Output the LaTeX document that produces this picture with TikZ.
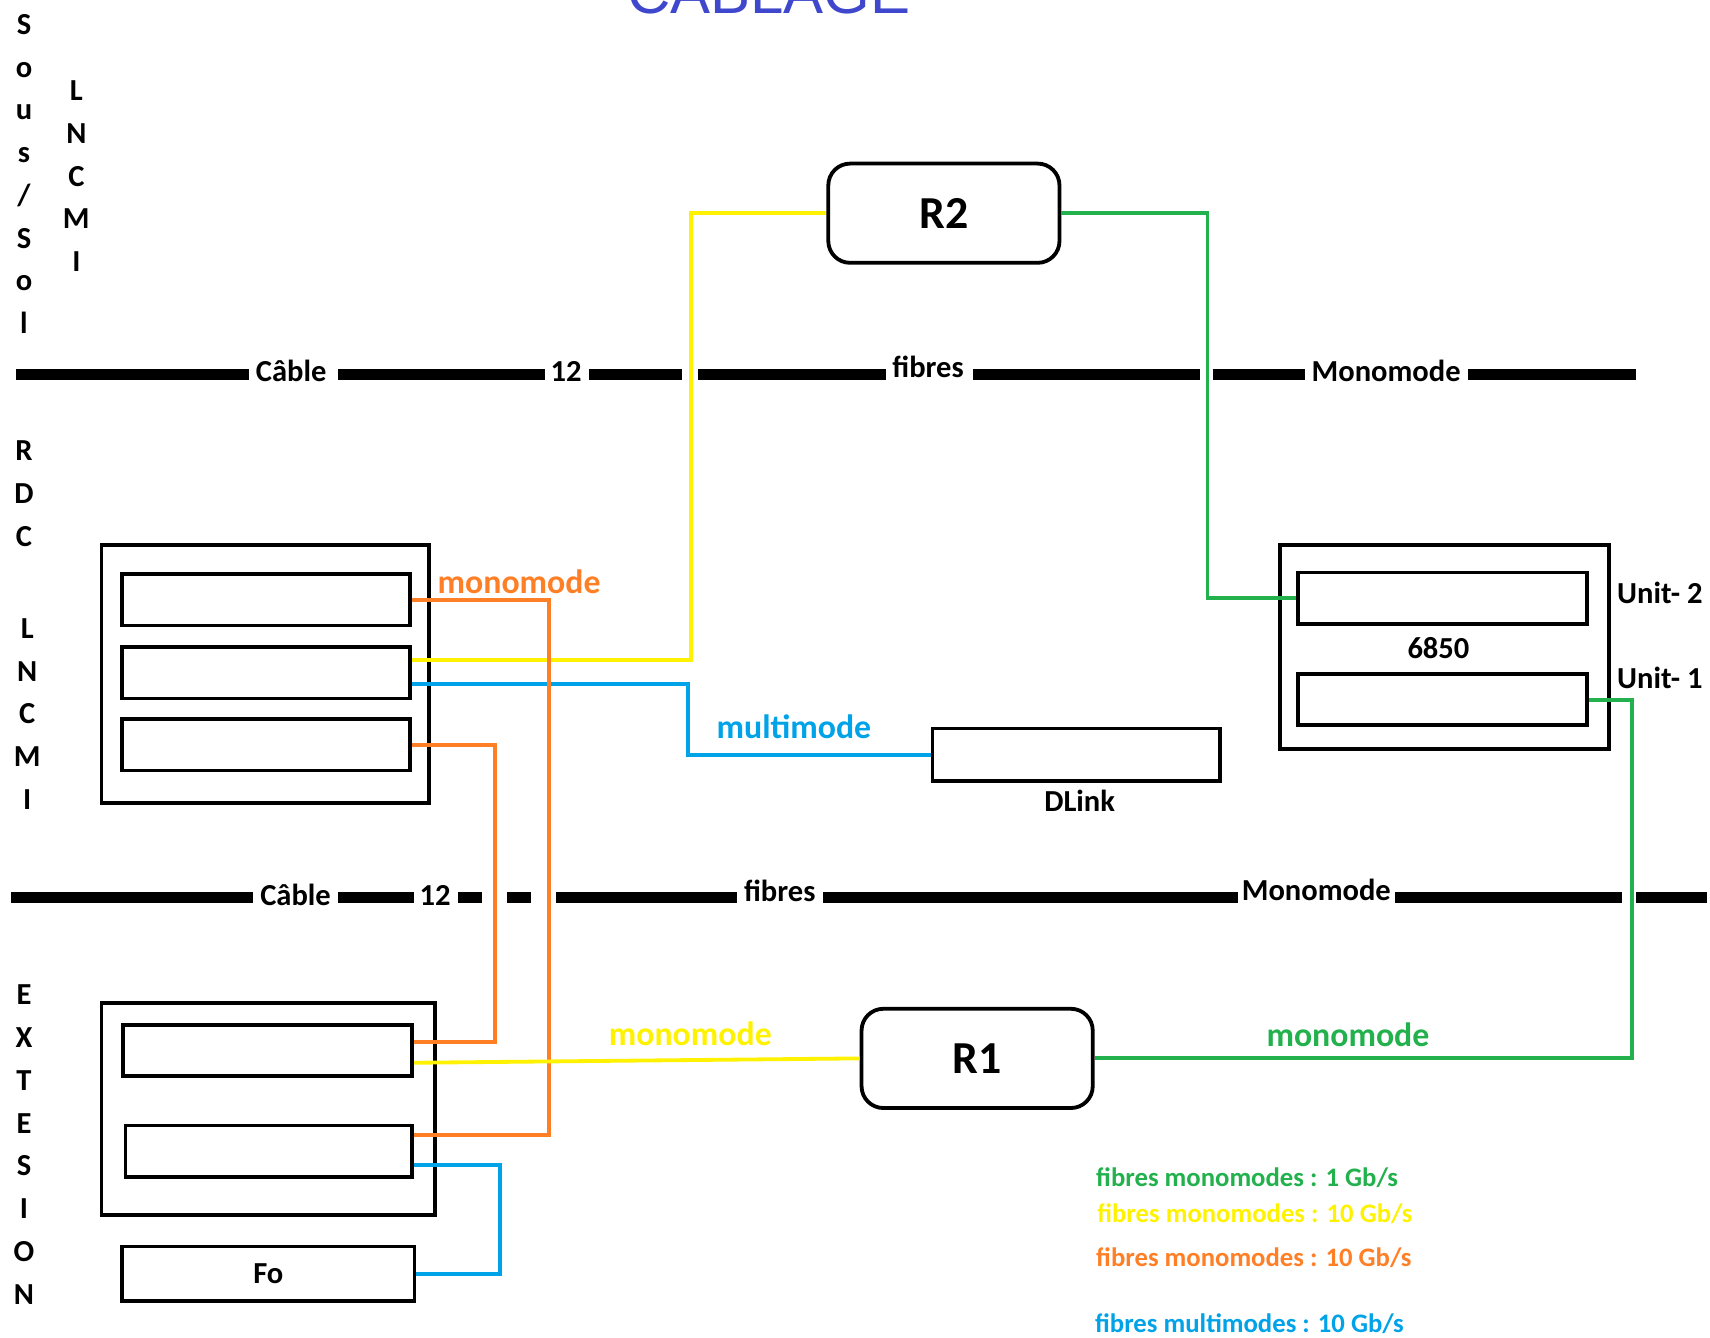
\documentclass[tikz,border=0pt]{standalone}
\usepackage{fontspec}
\setmainfont{Carlito}
\newfontfamily\titlefont{Liberation Sans}
\usetikzlibrary{positioning}

\definecolor{fibgreen}{RGB}{34,177,76}
\definecolor{fibyellow}{RGB}{255,242,0}
\definecolor{fiborange}{RGB}{255,127,39}
\definecolor{fibblue}{RGB}{0,162,232}
\definecolor{titleblue}{RGB}{63,72,204}

\tikzset{
    chassis/.style={draw, line width=3.5pt, inner sep=0pt},
    port/.style={draw, line width=3.5pt, inner sep=0pt, minimum width=264pt, minimum height=47pt},
    router/.style={draw, line width=3.5pt, rounded corners=20pt, minimum width=212pt, minimum height=91pt,
        font=\bfseries\fontsize{42}{42}\selectfont},
    cable/.style={line width=10pt},
    cablelbl/.style={font=\bfseries\fontsize{28}{28}\selectfont, inner sep=0pt},
    floor/.style={font=\bfseries\fontsize{28}{39.2}\selectfont, align=center, anchor=north, inner sep=0pt},
    fibre/.style={line width=3.5pt, draw=#1},
    fibrelbl/.style={font=\bfseries\fontsize{31}{31}\selectfont, text=#1, inner sep=0pt},
    legend/.style={font=\bfseries\fontsize{24.5}{25}\selectfont, anchor=west, inner sep=0pt, text=#1}
}

\begin{document}
\begin{tikzpicture}[x=1pt, y=-1pt]
    \useasboundingbox (0,0) rectangle (1568,1226);

    % titre et etages
    \node[font=\titlefont\fontsize{55}{55}\selectfont, text=titleblue, anchor=base] (title) at (705,12) {CÂBLAGE};
    \node[floor] (lblSous) at (22,13) {S\\o\\u\\s\\/\\S\\o\\l};
    \node[floor] (lblLncmiA) at (70,74) {L\\N\\C\\M\\I};
    \node[floor] (lblRdc) at (22,404) {R\\D\\C};
    \node[floor] (lblLncmiB) at (25,567) {L\\N\\C\\M\\I};
    \node[floor] (lblExt) at (22,903) {E\\X\\T\\E\\S\\I\\O\\N};

    % cables 12 fibres
    \foreach \a/\b in {15/228, 310/500, 540/625, 640/812, 892/1100, 1112/1197, 1346/1500}
        \draw[cable] (\a,343) -- (\b,343);
    \node[cablelbl, anchor=base] (cableA) at (267,350) {Câble};
    \node[cablelbl, anchor=base] (nbA) at (519,350) {12};
    \node[cablelbl, anchor=base] (fibA) at (851,346) {fibres};
    \node[cablelbl, anchor=base] (monoA) at (1271,350) {Monomode};

    \foreach \a/\b in {10/232, 310/380, 420/442, 465/487, 510/676, 755/1135, 1279/1487, 1500/1565}
        \draw[cable] (\a,823) -- (\b,823);
    \node[cablelbl, anchor=base] (cableB) at (271,830) {Câble};
    \node[cablelbl, anchor=base] (nbB) at (399,830) {12};
    \node[cablelbl, anchor=base] (fibB) at (715,827) {fibres};
    \node[cablelbl, anchor=base] (monoB) at (1207,826) {Monomode};

    % RDC
    \node[chassis, minimum width=300pt, minimum height=236pt] (rdc) at (243,618) {};
    \node[port] (rdcA) at (244,550) {};
    \node[port] (rdcB) at (244,617) {};
    \node[port] (rdcC) at (244,683) {};

    % extension
    \node[chassis, minimum width=306pt, minimum height=194pt] (ext) at (246,1017) {};
    \node[port, minimum width=265pt] (extA) at (245.5,963.5) {};
    \node[port, minimum width=263pt] (extB) at (246.5,1055.5) {};
    \node[port, minimum width=268pt, minimum height=50pt, font=\bfseries\fontsize{28}{28}\selectfont] (fo) at (246,1168) {Fo};

    % routeurs
    \node[router] (r2) at (865.5,195.5) {R2};
    \node[router] (r1) at (896,970.5) {R1};

    % 6850
    \node[chassis, minimum width=301pt, minimum height=187pt] (sw) at (1324.5,593.5) {};
    \node[port, minimum width=265pt] (unitB) at (1322.5,548.5) {};
    \node[port, minimum width=265pt] (unitA) at (1322.5,641.5) {};
    \node[cablelbl] (swLbl) at (1319,594) {6850};
    \node[cablelbl] (unitBLbl) at (1522,544) {Unit- 2};
    \node[cablelbl] (unitALbl) at (1522,622) {Unit- 1};

    % DLink
    \node[port, minimum height=48pt] (dlink) at (987,692) {};
    \node[cablelbl] (dlinkLbl) at (990,734) {DLink};

    % fibres
    \draw[fibre=fibyellow] ([yshift=12pt]rdcB.east) -- ++(256,0) |- (r2.west);
    \draw[fibre=fibblue] ([yshift=-10pt]rdcB.east) -- ++(253,0) |- (dlink.west);
    \draw[fibre=fiborange] (rdcA.east) -- ++(126,0) |- ([yshift=15pt]extB.east);
    \draw[fibre=fiborange] (rdcC.east) -- ++(76,0) |- ([yshift=8pt]extA.east);
    \draw[fibre=fibyellow] ([yshift=-11pt]extA.east) -- (r1.west);
    \draw[fibre=fibblue] ([yshift=-12.5pt]extB.east) -- ++(79,0) |- (fo.east);
    \draw[fibre=fibgreen] (r2.east) -- ++(134,0) |- (unitB.west);
    \draw[fibre=fibgreen] (r1.east) -- ++(493,0) |- (unitA.east);

    \node[fibrelbl=fiborange] (lblOrange) at (476,533) {monomode};
    \node[fibrelbl=fibblue] (lblBlue) at (728,666) {multimode};
    \node[fibrelbl=fibyellow] (lblYellow) at (633,948) {monomode};
    \node[fibrelbl=fibgreen] (lblGreen) at (1236,949) {monomode};

    % legende
    \node[legend=fibgreen] (legGreen) at (1005,1080) {fibres monomodes : 1 Gb/s};
    \node[legend=fibyellow] (legYellow) at (1006,1113) {fibres monomodes : 10 Gb/s};
    \node[legend=fiborange] (legOrange) at (1005,1153) {fibres monomodes : 10 Gb/s};
    \node[legend=fibblue] (legBlue) at (1004,1214) {fibres multimodes : 10 Gb/s};
\end{tikzpicture}
\end{document}
